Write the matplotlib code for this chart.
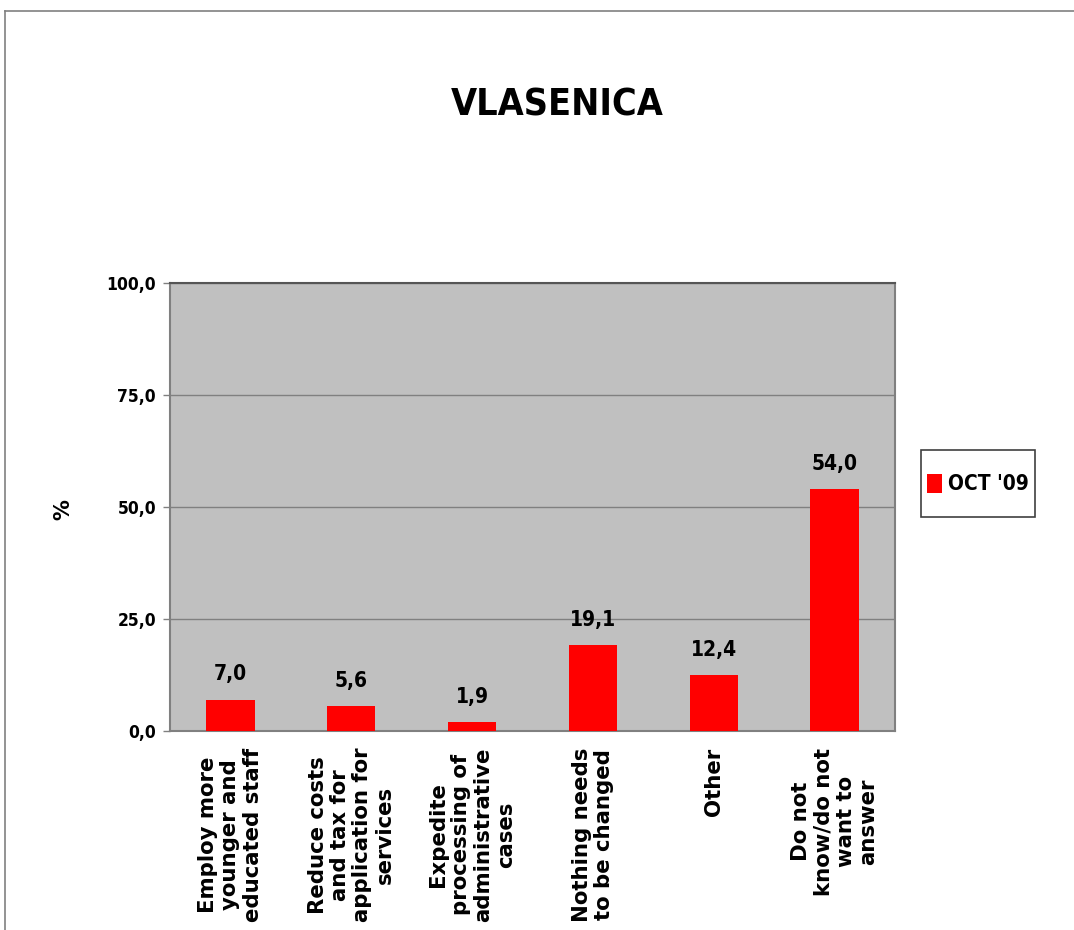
import matplotlib
matplotlib.use("Agg")
import matplotlib.pyplot as plt
from matplotlib.lines import Line2D
from matplotlib.patches import Rectangle

categories = [
    "Employ more\nyounger and\neducated staff",
    "Reduce costs\nand tax for\napplication for\nservices",
    "Expedite\nprocessing of\nadministrative\ncases",
    "Nothing needs\nto be changed",
    "Other",
    "Do not\nknow/do not\nwant to\nanswer",
]
values = [7.0, 5.6, 1.9, 19.1, 12.4, 54.0]
series_name = "OCT '09"
title = "VLASENICA"
y_ticks = [0, 25, 50, 75, 100]
y_tick_labels = ["0,0", "25,0", "50,0", "75,0", "100,0"]

COND = dict(family="DejaVu Sans", fontstretch="condensed", fontweight="bold")
WIDE = dict(family="DejaVu Sans", fontweight="bold")

fig = plt.figure(figsize=(10.74, 9.3), dpi=100)
fig.patch.set_facecolor("white")

# outer frame (top and left visible)
fig.add_artist(Line2D([5/1074, 1.0], [1 - 11/930, 1 - 11/930], transform=fig.transFigure,
                      color="#808080", lw=1.2))
fig.add_artist(Line2D([5/1074, 5/1074], [0, 1 - 11/930], transform=fig.transFigure,
                      color="#808080", lw=1.2))

ax = fig.add_axes([170/1074, 1 - 731/930, (895 - 170)/1074, (731 - 283)/930])
ax.set_facecolor("#C0C0C0")

x = list(range(len(categories)))
bars = ax.bar(x, values, width=0.4, color="#FF0000", zorder=3, label=series_name)

ax.set_xlim(-0.5, len(categories) - 0.5)
ax.set_ylim(0, 100)
ax.set_yticks(y_ticks)
ax.set_yticklabels(y_tick_labels, fontsize=12.5, **COND)
ax.set_xticks(x)
ax.set_xticklabels(categories, rotation=90, fontsize=15.3, linespacing=1.15,
                   multialignment="center")
for lbl in ax.get_xticklabels():
    lbl.set_family("DejaVu Sans")
    lbl.set_fontweight("bold")
ax.tick_params(axis="x", length=0, pad=12)
ax.tick_params(axis="y", length=5, width=1, color="#808080", pad=5)

ax.grid(axis="y", color="#808080", lw=1, zorder=1)
ax.set_axisbelow(True)
for side in ["left", "bottom", "right", "top"]:
    ax.spines[side].set_color("#808080")
    ax.spines[side].set_linewidth(1.5)
ax.spines["top"].set_color("#555555")

for b, v in zip(bars, values):
    ax.annotate(f"{v:.1f}".replace(".", ","), (b.get_x() + b.get_width()/2, v),
                xytext=(0, 11), textcoords="offset points", ha="center", va="bottom",
                fontsize=15, **COND)

fig.text(557/1074, 1 - 106/930, title, ha="center", va="center", fontsize=27, **COND)
fig.text(63/1074, 1 - 510/930, "%", ha="center", va="center", rotation=90,
         fontsize=15, **WIDE)

# legend frame drawn as a box, legend entry inside it
fig.add_artist(Rectangle((921/1074, 1 - 517/930), (1035 - 921)/1074, (517 - 450)/930,
                         transform=fig.transFigure, facecolor="white",
                         edgecolor="#404040", lw=1.2))
leg = fig.legend(handles=[bars], labels=[series_name], loc="center",
                 bbox_to_anchor=(978/1074, 1 - 484/930), frameon=False,
                 prop={"family": "DejaVu Sans", "stretch": "condensed", "weight": "bold",
                       "size": 15},
                 handlelength=0.72, handleheight=1.05, handletextpad=0.3, borderpad=0.2)

fig.savefig("out.png", dpi=100)
